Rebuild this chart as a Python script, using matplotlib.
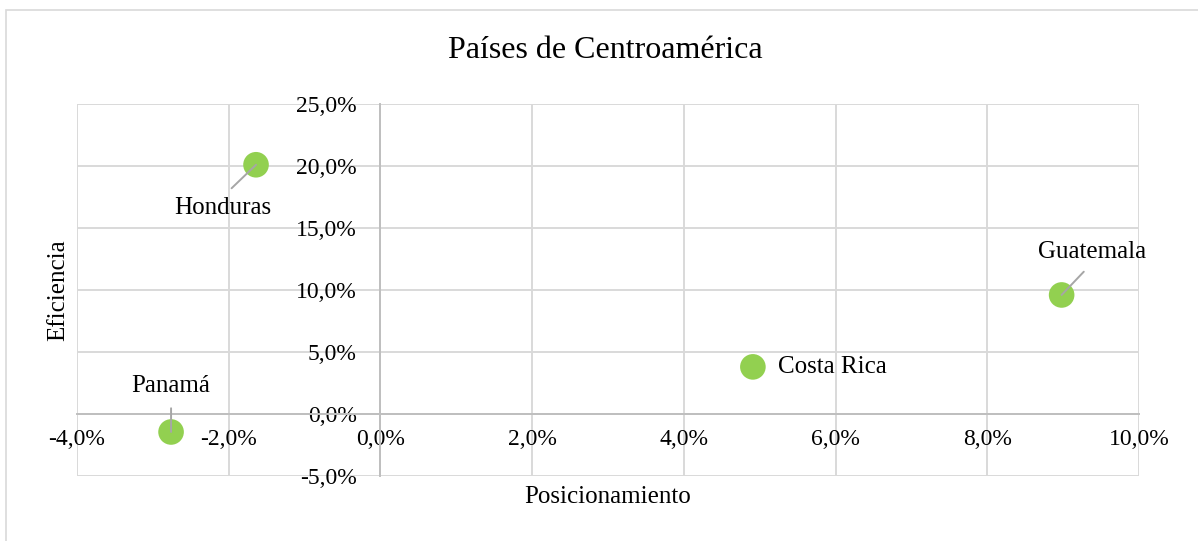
import matplotlib.pyplot as plt
from matplotlib.patches import Rectangle
from matplotlib.ticker import FuncFormatter, MultipleLocator

# data (percent)
paises = ["Honduras", "Panamá", "Costa Rica", "Guatemala"]
posicionamiento = [-1.64, -2.76, 4.91, 8.98]
eficiencia = [20.1, -1.45, 3.8, 9.6]
# label offsets in points (dx, dy)
offsets = [(-24, -31), (0, 33), (18, 0), (22, 31)]

plt.rcParams['font.family'] = ['Liberation Serif', 'DejaVu Serif']

fig = plt.figure(figsize=(11.98, 5.41), dpi=100)
ax = fig.add_axes([77 / 1198, 1 - 476 / 541, (1139 - 77) / 1198, (476 - 104) / 541])

grid_c = '#d9d9d9'
ax.set_xlim(-4, 10)
ax.set_ylim(-5, 25)
ax.xaxis.set_major_locator(MultipleLocator(2))
ax.yaxis.set_major_locator(MultipleLocator(5))
ax.grid(True, color=grid_c, lw=1.4)
ax.set_axisbelow(True)

for s in ['top', 'right']:
    ax.spines[s].set_visible(False)
ax.spines['left'].set_position(('data', 0))
ax.spines['bottom'].set_position(('data', 0))
for s in ['left', 'bottom']:
    ax.spines[s].set_color('#bfbfbf')
    ax.spines[s].set_linewidth(1.4)

fmt = FuncFormatter(lambda v, p: f"{v:.1f}%".replace('.', ','))
ax.xaxis.set_major_formatter(fmt)
ax.yaxis.set_major_formatter(fmt)
ax.tick_params(axis='both', length=0, labelsize=17, colors='black')
ax.tick_params(axis='y', pad=17)
ax.tick_params(axis='x', pad=11)

ax.scatter(posicionamiento, eficiencia, s=340, color='#92d050', zorder=3,
           edgecolors='none')

for name, x, y, (dx, dy) in zip(paises, posicionamiento, eficiencia, offsets):
    if dy == 0:
        ax.annotate(name, (x, y), xytext=(dx, dy), textcoords='offset points',
                    ha='left', va='center', fontsize=18, zorder=4)
    else:
        ax.annotate(name, (x, y), xytext=(dx, dy), textcoords='offset points',
                    ha='center', va='center', fontsize=18, zorder=4,
                    arrowprops=dict(arrowstyle='-', color='#a6a6a6', lw=1.4,
                                    shrinkA=6, shrinkB=0,
                                    relpos=(0.5, 1) if dy < 0 else (0.5, 0)))

fig.text(605 / 1198, 1 - 50 / 541, "Países de Centroamérica", ha='center',
         va='center', fontsize=23)
fig.text(608 / 1198, 1 - 497 / 541, "Posicionamiento", ha='center',
         va='center', fontsize=18)
fig.text(58 / 1198, 1 - 290 / 541, "Eficiencia", ha='center', va='center',
         rotation=90, fontsize=18)

fig.patches.append(Rectangle((6 / 1198, -0.05), 1.1, 1 - 10 / 541 + 0.05,
                             transform=fig.transFigure, fill=False,
                             edgecolor=grid_c, lw=1.2))

fig.savefig('out.png', dpi=100)
